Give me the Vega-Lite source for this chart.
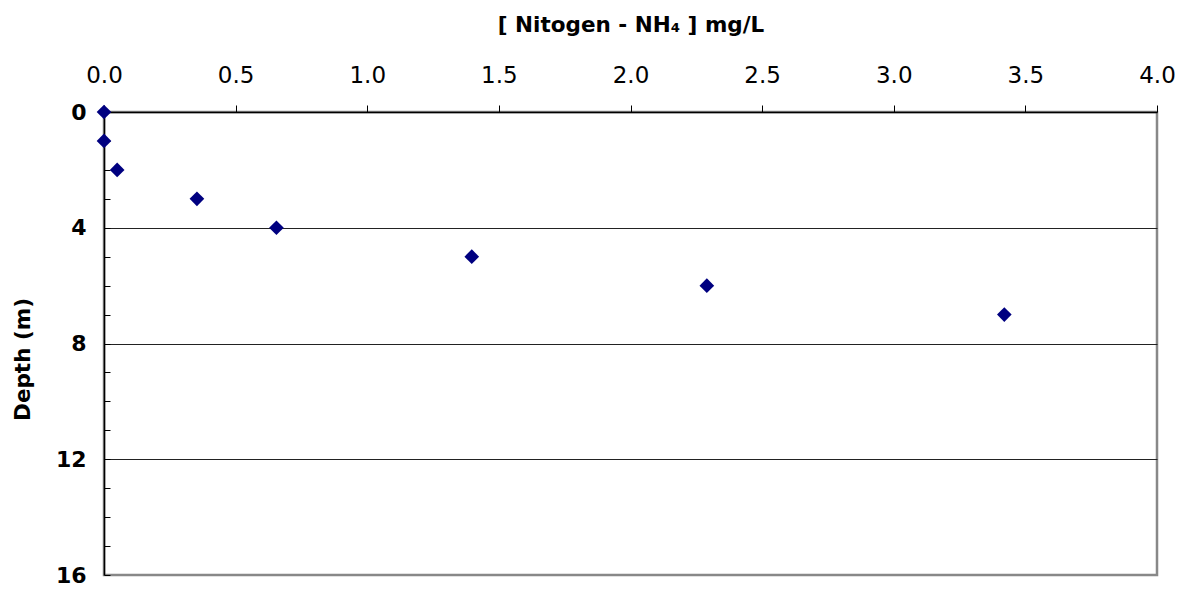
{
  "$schema": "https://vega.github.io/schema/vega-lite/v6.json",
  "width": 1053,
  "height": 463,
  "autosize": {"type": "none"},
  "padding": {"left": 104, "top": 112, "right": 29, "bottom": 18},
  "background": "white",
  "config": {
    "font": "DejaVu Sans",
    "view": {"stroke": "#888888", "strokeWidth": 2.5}
  },
  "data": {
    "values": [
      {"nh4": 0.0, "depth": 0},
      {"nh4": 0.0, "depth": 1},
      {"nh4": 0.05, "depth": 2},
      {"nh4": 0.353, "depth": 3},
      {"nh4": 0.655, "depth": 4},
      {"nh4": 1.397, "depth": 5},
      {"nh4": 2.29, "depth": 6},
      {"nh4": 3.42, "depth": 7}
    ]
  },
  "mark": {"type": "point", "shape": "diamond", "filled": true, "color": "#000080", "opacity": 1, "size": 215},
  "encoding": {
    "x": {
      "field": "nh4",
      "type": "quantitative",
      "scale": {"domain": [0, 4], "nice": false, "zero": false},
      "axis": {
        "orient": "top",
        "title": "[ Nitogen - NH₄ ] mg/L",
        "titleFont": "DejaVu Sans",
        "titleFontSize": 21.5,
        "titleFontWeight": "bold",
        "titleColor": "black",
        "titleBaseline": "alphabetic",
        "titleY": -81,
        "values": [0, 0.5, 1, 1.5, 2, 2.5, 3, 3.5, 4],
        "format": ".1f",
        "labelFont": "DejaVu Sans",
        "labelFontSize": 23,
        "labelColor": "black",
        "labelPadding": 18,
        "labelFlush": false,
        "tickSize": 7,
        "tickColor": "black",
        "domainColor": "black",
        "domainWidth": 1.5,
        "grid": false
      }
    },
    "y": {
      "field": "depth",
      "type": "quantitative",
      "scale": {"domain": [0, 16], "reverse": true, "nice": false, "zero": false},
      "axis": {
        "title": "Depth (m)",
        "titleFont": "DejaVu Sans",
        "titleFontSize": 21.5,
        "titleFontWeight": "bold",
        "titleColor": "black",
        "titleBaseline": "alphabetic",
        "titleX": -75,
        "titleY": 247,
        "values": [0, 1, 2, 3, 4, 5, 6, 7, 8, 9, 10, 11, 12, 13, 14, 15, 16],
        "labelExpr": "datum.value % 4 === 0 ? datum.label : ''",
        "labelFont": "DejaVu Sans",
        "labelFontSize": 22,
        "labelFontWeight": "bold",
        "labelColor": "black",
        "labelPadding": 24,
        "labelFlush": false,
        "tickSize": -6,
        "tickColor": "black",
        "domainColor": "black",
        "domainWidth": 1.5,
        "grid": true,
        "gridColor": "#222222",
        "gridWidth": 1,
        "gridOpacity": {"condition": {"test": "datum.value % 4 === 0 && datum.value > 0 && datum.value < 16", "value": 1}, "value": 0}
      }
    }
  }
}
